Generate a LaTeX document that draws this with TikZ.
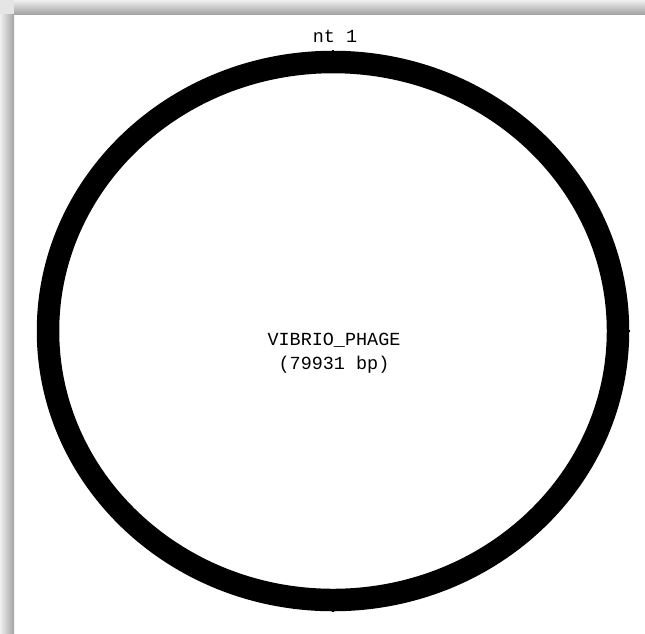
\documentclass[tikz,border=0pt]{standalone}
\usepackage{fontspec}
\usepackage{tikz}
\setmonofont{Liberation Mono}

\begin{document}
\begin{tikzpicture}[
    x=0.02cm, y=-0.02cm,
    lbl/.style={font=\ttfamily\fontsize{10.5}{13.5}\selectfont, inner sep=0pt, align=center},
    ring/.style={line width=0.45cm, black},
    tick/.style={line width=0.6pt, black}
]
    \useasboundingbox (0,0) rectangle (645,633);
    % Frame shadow
    \fill[white] (0,0) rectangle (645,633);
    \shade[top color=black!6, bottom color=black!36] (14,0) rectangle (645,14);
    \shade[left color=black!6, right color=black!36] (0,14) rectangle (14,633);
    \fill[black!10] (0,0) rectangle (14,14);

    % Genome ring
    \draw[ring] (333,331) ellipse [x radius=285, y radius=269];
    \coordinate (top) at (333,50);
    \coordinate (topin) at (333,72);
    \coordinate (bot) at (333,612);
    \coordinate (botin) at (333,589);
    \coordinate (lft) at (38,331);
    \coordinate (lftin) at (59,331);
    \coordinate (rgt) at (630,331);
    \coordinate (rgtin) at (608,331);
    \draw[tick] (top) -- (topin);
    \draw[tick] (bot) -- (botin);
    \draw[tick] (lft) -- (lftin);
    \draw[tick] (rgt) -- (rgtin);

    % Labels
    \node[lbl] (start) at (335,36) {nt 1};
    \node[lbl] (name) at (334,353) {VIBRIO\_PHAGE\\(79931 bp)};
\end{tikzpicture}
\end{document}
